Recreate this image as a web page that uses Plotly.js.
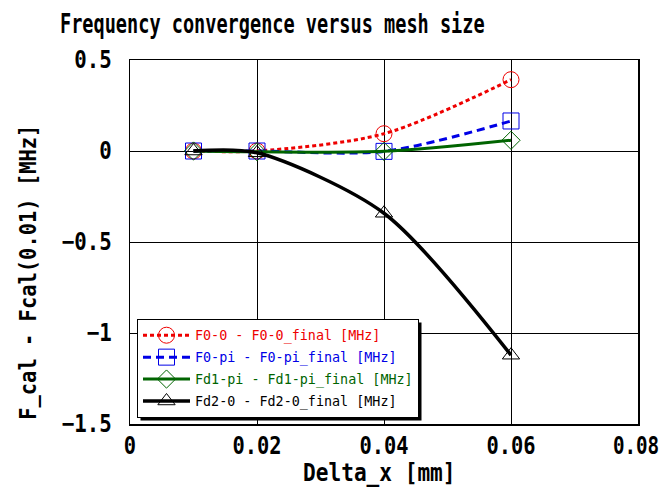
<!DOCTYPE html>
<html><head><meta charset="utf-8">
<script src="https://cdn.plot.ly/plotly-3.0.1.min.js"></script>
<style>body{margin:0;background:#fff}#c{width:661px;height:489px}</style>
</head><body><div id="c"></div>
<script>
const deltaX = [0.01, 0.02, 0.04, 0.06];
const f00 = [0, 0.0, 0.095, 0.392];
const f0pi = [0, 0.0, -0.002, 0.165];
const fd1pi = [0, -0.004, -0.002, 0.059];
const fd20 = [0, -0.01, -0.342, -1.122];
const seriesNames = ["F0-0 - F0-0_final [MHz]", "F0-pi - F0-pi_final [MHz]", "Fd1-pi - Fd1-pi_final [MHz]", "Fd2-0 - Fd2-0_final [MHz]"];
const xTicks = [0, 0.02, 0.04, 0.06, 0.08];
const yTicks = [0.5, 0, -0.5, -1, -1.5];
const titleText = 'Frequency convergence versus mesh size';
const xTitle = 'Delta_x [mm]';
const yTitle = 'F_cal - Fcal(0.01) [MHz]';

const FONT = '"DejaVu Sans Mono", "Liberation Mono", monospace';
const cols = ['#ee0000', '#0000e6', '#006400', '#000000'];
function tr(y, i, dash, width, symbol, msize, smooth) {
  return {x: deltaX, y: y, name: seriesNames[i], type: 'scatter', mode: 'lines+markers',
    legendgroup: 'g' + i,
    line: {color: cols[i], dash: dash, width: width, shape: 'spline', smoothing: smooth},
    marker: {symbol: symbol, size: msize, color: cols[i], line: {color: cols[i], width: 1}},
    cliponaxis: false};
}
const data = [
  tr(f00, 0, '4px,3px', 3, 'circle-open', 16, 0.85),
  tr(f0pi, 1, '8px,5px', 3, 'square-open', 16, 0.85),
  tr(fd1pi, 2, 'solid', 3, 'diamond-open', 14, 0.85),
  tr(fd20, 3, 'solid', 3.5, 'triangle-up-open', 15, 0.8)
];
const fmtY = v => '<b>' + (v < 0 ? '\u2212' + Math.abs(v) : String(v)) + '</b>';
const layout = {
  width: 661, height: 489,
  margin: {l: 130, r: 23, t: 60, b: 65},
  paper_bgcolor: '#fff', plot_bgcolor: '#fff',
  font: {family: FONT, color: '#000', size: 20},
  title: {text: '<b>' + titleText + '</b>', font: {family: FONT, size: 27, color: '#000'},
    xref: 'container', yref: 'container', x: 60 / 661, xanchor: 'left', y: 1 - 23.5 / 489, yanchor: 'middle'},
  xaxis: {range: [0, 0.08], tickvals: xTicks, ticktext: xTicks.map(v => '<b>' + v + '</b>'),
    showgrid: true, gridcolor: '#000', gridwidth: 1, zeroline: false,
    showline: true, linecolor: '#000', linewidth: 1.5, mirror: true, ticks: '',
    tickfont: {size: 24}, ticklabelstandoff: 0, ticklabeloverflow: 'allow'},
  yaxis: {range: [-1.5, 0.5], tickvals: yTicks, ticktext: yTicks.map(fmtY),
    showgrid: true, gridcolor: '#000', gridwidth: 1, zeroline: false,
    showline: true, linecolor: '#000', linewidth: 1.5, mirror: true, ticks: '',
    tickfont: {size: 24}, ticklabelstandoff: 12, ticklabeloverflow: 'allow'},
  annotations: [
    {text: '<b>' + xTitle + '</b>', xref: 'paper', yref: 'paper', x: (379 - 130) / 508, y: (424 - 472) / 364,
     xanchor: 'center', yanchor: 'middle', showarrow: false, font: {size: 25}},
    {text: '<b>' + yTitle + '</b>', xref: 'paper', yref: 'paper', x: (28 - 130) / 508, y: (424 - 272.5) / 364,
     xanchor: 'center', yanchor: 'middle', showarrow: false, textangle: -90, font: {size: 23.3}}
  ],
  showlegend: true,
  legend: {x: (137 - 130) / 508, y: (424 - 319) / 364, xanchor: 'left', yanchor: 'top', bgcolor: '#fff',
    bordercolor: '#000', borderwidth: 1, font: {size: 13.4, family: FONT},
    itemwidth: 47, tracegroupgap: 1.5, traceorder: 'grouped'},
  shapes: []
};
function squeeze(el, sx, dx) {
  const x = parseFloat(el.getAttribute('x')) || 0;
  const t = el.getAttribute('transform') || '';
  el.setAttribute('transform', t + ' translate(' + (x + (dx || 0)) + ',0) scale(' + sx + ',1) translate(' + (-x) + ',0)');
}
Plotly.newPlot('c', data, layout, {staticPlot: true}).then(gd => {
  const bg = gd.querySelector('.legend .bg');
  const r = bg.getBoundingClientRect();
  const c = gd.getBoundingClientRect();
  const s = gd._fullLayout._size;
  const off = 3;
  const px = v => (v - s.l) / s.w, py = v => 1 - (v - s.t) / s.h;
  const L = r.left - c.left, T = r.top - c.top;
  return Plotly.relayout(gd, {shapes: [{type: 'rect', xref: 'paper', yref: 'paper', layer: 'above',
    x0: px(L + off), x1: px(L + r.width + off), y0: py(T + off), y1: py(T + r.height + off),
    fillcolor: '#000', line: {width: 0}}]}).then(() => gd);
}).then(gd => {
  gd.querySelectorAll('.legendtext').forEach((t, i) => { t.style.fill = cols[i]; });
  gd.querySelectorAll('.gtitle').forEach(el => squeeze(el, 0.688));
  const xt = gd.querySelectorAll('.xtick text');
  xt.forEach((el, i) => squeeze(el, i === xt.length - 1 ? 0.8 : 0.85, i === xt.length - 1 ? -2 : 0));
  gd.querySelectorAll('.ytick text').forEach(el => squeeze(el, 0.865));
  const ann = gd.querySelectorAll('.annotation-text');
  if (ann[0]) squeeze(ann[0], 0.844);
  if (ann[1]) squeeze(ann[1], 0.877);
});
</script></body></html>
